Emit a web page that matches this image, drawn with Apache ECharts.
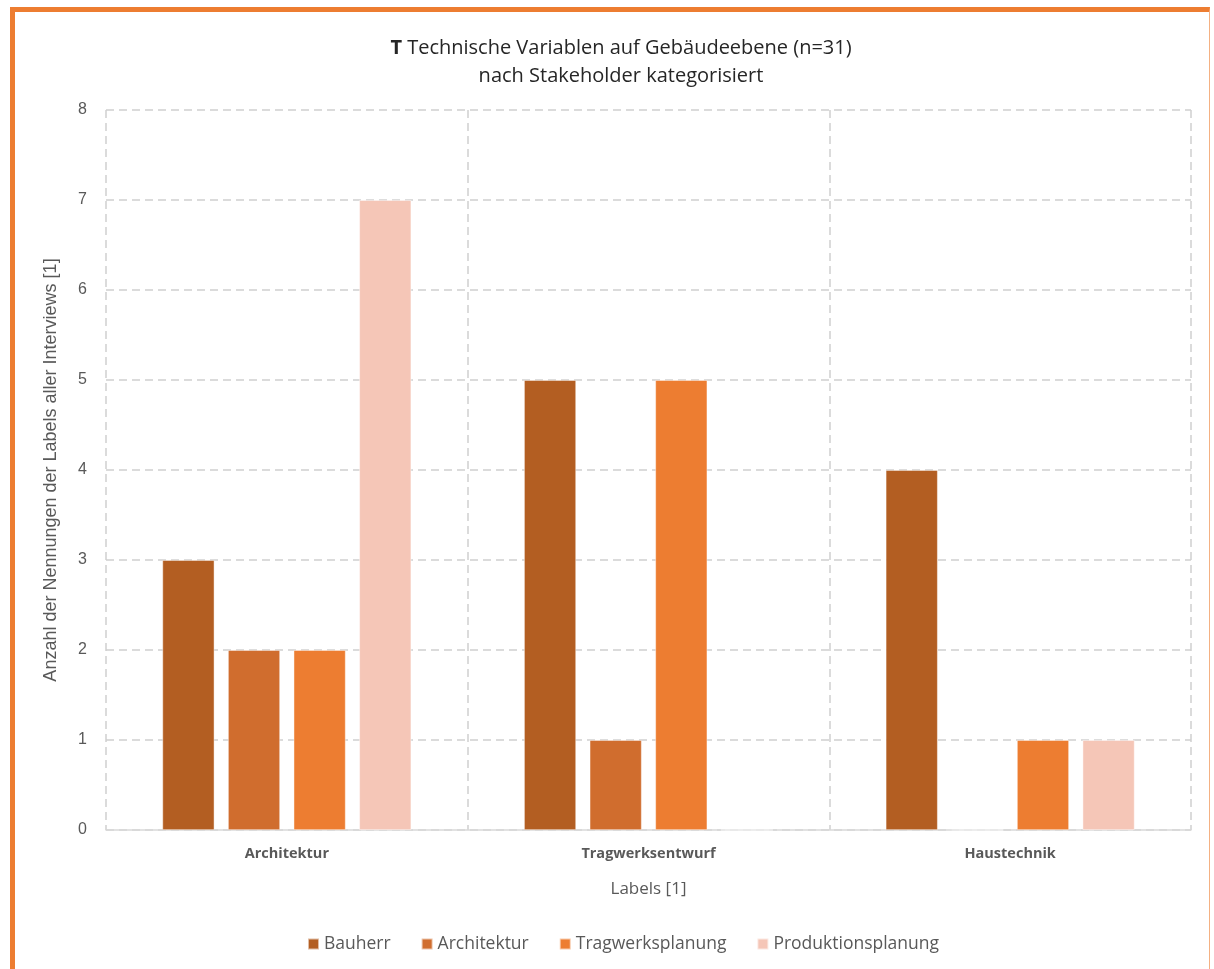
<!DOCTYPE html>
<html>
<head>
<meta charset="utf-8">
<title>Technische Variablen auf Gebäudeebene</title>
<script src="https://cdn.jsdelivr.net/npm/echarts@6/dist/echarts.min.js"></script>
<style>
  html, body { margin: 0; padding: 0; background: #ffffff; overflow: hidden; }
  #frame {
    position: absolute; left: 10px; top: 7px; width: 1194px; height: 990px;
    border-left: 5px solid #ED7D31; border-top: 5px solid #ED7D31; border-right: 1px solid #F4B183;
  }
  #chart { position: absolute; left: 0; top: 0; width: 1214px; height: 969px; }
</style>
</head>
<body>
<div id="frame"></div>
<div id="chart"></div>
<script>
// Categories (x axis) and the counts per stakeholder group
const categories = ['Architektur', 'Tragwerksentwurf', 'Haustechnik'];
const bauherr = [3, 5, 4];
const architektur = [2, 1, 0];
const tragwerksplanung = [2, 5, 1];
const produktionsplanung = [7, 0, 1];
const seriesNames = ['Bauherr', 'Architektur', 'Tragwerksplanung', 'Produktionsplanung'];
const seriesColors = ['#B35E22', '#D06D2E', '#ED7D31', '#F5C6B7'];
const seriesData = [bauherr, architektur, tragwerksplanung, produktionsplanung];

const FONT = '"Open Sans", Lato, sans-serif';
const AXIS_FONT = '"Liberation Sans", Arial, sans-serif';
const chart = echarts.init(document.getElementById('chart'), null, { renderer: 'canvas' });

chart.setOption({
  animation: false,
  backgroundColor: 'transparent',
  textStyle: { fontFamily: FONT },
  title: {
    text: '{b|T} Technische Variablen auf Gebäudeebene (n=31)\nnach Stakeholder kategorisiert',
    left: 616,
    top: 29,
    textAlign: 'center',
    textStyle: {
      fontFamily: FONT, fontSize: 20, fontWeight: 'normal', color: '#262626', lineHeight: 28,
      rich: { b: { fontFamily: FONT, fontSize: 20, fontWeight: 'bold', color: '#262626', lineHeight: 28 } }
    }
  },
  legend: {
    top: 927,
    left: 302,
    itemWidth: 11,
    itemHeight: 11,
    itemGap: 30,
    icon: 'rect',
    textStyle: { fontFamily: FONT, fontSize: 17.5, color: '#595959', lineHeight: 24 },
    data: seriesNames
  },
  grid: { left: 106, right: 23, top: 110, bottom: 139 },
  xAxis: {
    type: 'category',
    data: categories,
    name: 'Labels [1]',
    nameLocation: 'middle',
    nameGap: 51,
    nameTextStyle: { fontFamily: FONT, fontSize: 17, color: '#595959' },
    axisLine: { show: true, lineStyle: { color: '#D9D9D9', width: 1.5 } },
    axisTick: { show: false },
    axisLabel: { margin: 16, fontFamily: FONT, fontSize: 14.5, fontWeight: 'bold', color: '#595959' },
    splitLine: { show: true, lineStyle: { color: '#CFCFCF', type: [8, 5], width: 1.5 } }
  },
  yAxis: {
    type: 'value',
    min: 0,
    max: 8,
    interval: 1,
    name: 'Anzahl der Nennungen der Labels aller Interviews [1]',
    nameLocation: 'middle',
    nameGap: 46,
    nameTextStyle: { fontFamily: AXIS_FONT, fontSize: 18, color: '#595959' },
    axisLine: { show: false },
    axisTick: { show: false },
    axisLabel: { margin: 19, fontFamily: AXIS_FONT, fontSize: 16, color: '#595959' },
    splitLine: { show: true, lineStyle: { color: '#CFCFCF', type: [8, 5], width: 1.5 } }
  },
  series: seriesNames.map((name, i) => ({
    name: name,
    type: 'bar',
    data: seriesData[i],
    barWidth: '14.4%',
    barGap: '26%',
    itemStyle: { color: seriesColors[i], borderColor: 'rgba(255,255,255,0.6)', borderWidth: 0.75 }
  }))
});
</script>
</body>
</html>
